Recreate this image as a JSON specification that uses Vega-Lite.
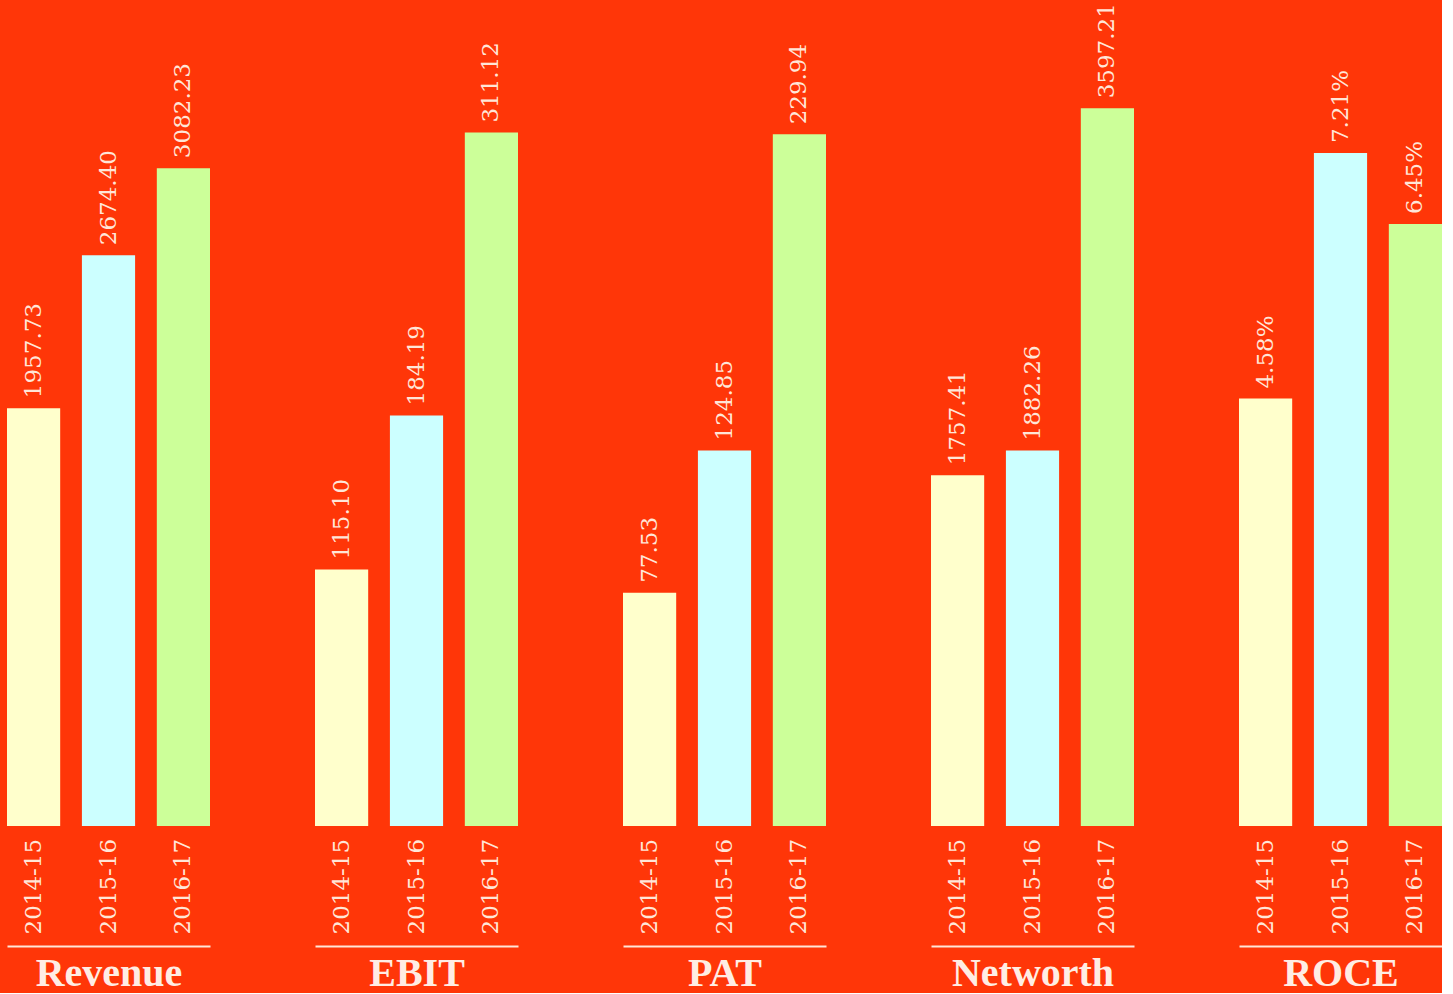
{
  "$schema": "https://vega.github.io/schema/vega-lite/v6.json",
  "background": "#FF3608",
  "padding": {"left": 7, "top": 0, "right": 0, "bottom": 0},
  "autosize": {"type": "pad"},
  "bounds": "flush",
  "spacing": 105,
  "data": {
    "values": [
      {"metric": "Revenue", "year": "2014-15", "value": 1957.73},
      {"metric": "Revenue", "year": "2015-16", "value": 2674.40},
      {"metric": "Revenue", "year": "2016-17", "value": 3082.23},
      {"metric": "EBIT", "year": "2014-15", "value": 115.10},
      {"metric": "EBIT", "year": "2015-16", "value": 184.19},
      {"metric": "EBIT", "year": "2016-17", "value": 311.12},
      {"metric": "PAT", "year": "2014-15", "value": 77.53},
      {"metric": "PAT", "year": "2015-16", "value": 124.85},
      {"metric": "PAT", "year": "2016-17", "value": 229.94},
      {"metric": "Networth", "year": "2014-15", "value": 1757.41},
      {"metric": "Networth", "year": "2015-16", "value": 1882.26},
      {"metric": "Networth", "year": "2016-17", "value": 3597.21},
      {"metric": "ROCE", "year": "2014-15", "value": 0.0458},
      {"metric": "ROCE", "year": "2015-16", "value": 0.0721},
      {"metric": "ROCE", "year": "2016-17", "value": 0.0645}
    ]
  },
  "hconcat": [
    {
      "width": 203, "height": 826,
      "transform": [{"filter": "datum.metric === 'Revenue'"}],
      "encoding": {
        "x": {"field": "year", "type": "nominal", "sort": null, "scale": {"paddingInner": 0.29, "paddingOuter": 0}, "axis": {"title": "Revenue"}},
        "y": {"field": "value", "type": "quantitative", "scale": {"domain": [0, 3870], "nice": false}, "axis": null}
      },
      "layer": [
        {"mark": {"type": "bar"}, "encoding": {"color": {"field": "year", "type": "nominal", "scale": {"domain": ["2014-15", "2015-16", "2016-17"], "range": ["#FFFFCC", "#CCFFFF", "#CCFF99"]}, "legend": null}}},
        {"mark": {"type": "text", "angle": 270, "align": "left", "baseline": "middle", "dx": 10}, "encoding": {"text": {"field": "value", "type": "quantitative", "format": ".2f"}}}
      ]
    },
    {
      "width": 203, "height": 826,
      "transform": [{"filter": "datum.metric === 'EBIT'"}],
      "encoding": {
        "x": {"field": "year", "type": "nominal", "sort": null, "scale": {"paddingInner": 0.29, "paddingOuter": 0}, "axis": {"title": "EBIT"}},
        "y": {"field": "value", "type": "quantitative", "scale": {"domain": [0, 370.6], "nice": false}, "axis": null}
      },
      "layer": [
        {"mark": {"type": "bar"}, "encoding": {"color": {"field": "year", "type": "nominal", "scale": {"domain": ["2014-15", "2015-16", "2016-17"], "range": ["#FFFFCC", "#CCFFFF", "#CCFF99"]}, "legend": null}}},
        {"mark": {"type": "text", "angle": 270, "align": "left", "baseline": "middle", "dx": 10}, "encoding": {"text": {"field": "value", "type": "quantitative", "format": ".2f"}}}
      ]
    },
    {
      "width": 203, "height": 826,
      "transform": [{"filter": "datum.metric === 'PAT'"}],
      "encoding": {
        "x": {"field": "year", "type": "nominal", "sort": null, "scale": {"paddingInner": 0.29, "paddingOuter": 0}, "axis": {"title": "PAT"}},
        "y": {"field": "value", "type": "quantitative", "scale": {"domain": [0, 274.6], "nice": false}, "axis": null}
      },
      "layer": [
        {"mark": {"type": "bar"}, "encoding": {"color": {"field": "year", "type": "nominal", "scale": {"domain": ["2014-15", "2015-16", "2016-17"], "range": ["#FFFFCC", "#CCFFFF", "#CCFF99"]}, "legend": null}}},
        {"mark": {"type": "text", "angle": 270, "align": "left", "baseline": "middle", "dx": 10}, "encoding": {"text": {"field": "value", "type": "quantitative", "format": ".2f"}}}
      ]
    },
    {
      "width": 203, "height": 826,
      "transform": [{"filter": "datum.metric === 'Networth'"}],
      "encoding": {
        "x": {"field": "year", "type": "nominal", "sort": null, "scale": {"paddingInner": 0.29, "paddingOuter": 0}, "axis": {"title": "Networth"}},
        "y": {"field": "value", "type": "quantitative", "scale": {"domain": [0, 4140], "nice": false}, "axis": null}
      },
      "layer": [
        {"mark": {"type": "bar"}, "encoding": {"color": {"field": "year", "type": "nominal", "scale": {"domain": ["2014-15", "2015-16", "2016-17"], "range": ["#FFFFCC", "#CCFFFF", "#CCFF99"]}, "legend": null}}},
        {"mark": {"type": "text", "angle": 270, "align": "left", "baseline": "middle", "dx": 10}, "encoding": {"text": {"field": "value", "type": "quantitative", "format": ".2f"}}}
      ]
    },
    {
      "width": 203, "height": 826,
      "transform": [{"filter": "datum.metric === 'ROCE'"}],
      "encoding": {
        "x": {"field": "year", "type": "nominal", "sort": null, "scale": {"paddingInner": 0.29, "paddingOuter": 0}, "axis": {"title": "ROCE"}},
        "y": {"field": "value", "type": "quantitative", "scale": {"domain": [0, 0.0885], "nice": false}, "axis": null}
      },
      "layer": [
        {"mark": {"type": "bar"}, "encoding": {"color": {"field": "year", "type": "nominal", "scale": {"domain": ["2014-15", "2015-16", "2016-17"], "range": ["#FFFFCC", "#CCFFFF", "#CCFF99"]}, "legend": null}}},
        {"mark": {"type": "text", "angle": 270, "align": "left", "baseline": "middle", "dx": 10}, "encoding": {"text": {"field": "value", "type": "quantitative", "format": ".2%"}}}
      ]
    }
  ],
  "config": {
    "view": {"stroke": null},
    "text": {"font": "DejaVu Serif", "fontSize": 23, "color": "#FFE6D8"},
    "axisX": {
      "offset": 120,
      "domain": true,
      "domainColor": "#FFE6D8",
      "domainWidth": 2,
      "ticks": false,
      "tickSize": 0,
      "grid": false,
      "labelAngle": -90,
      "labelAlign": "left",
      "labelBaseline": "middle",
      "labelPadding": -12,
      "labelFont": "DejaVu Serif",
      "labelFontSize": 23,
      "labelColor": "#FFE6D8",
      "labelOverlap": false,
      "titleFont": "Liberation Serif",
      "titleFontSize": 40,
      "titleFontWeight": "bold",
      "titleColor": "#FFEDE4",
      "titleBaseline": "alphabetic",
      "titlePadding": 39
    }
  }
}
